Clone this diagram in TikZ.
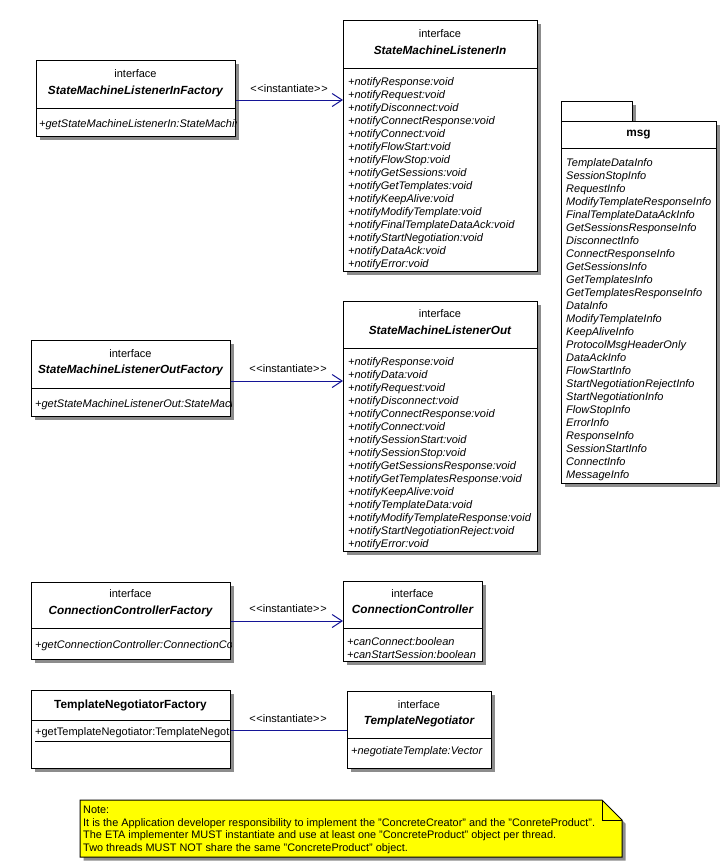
\documentclass[tikz,border=0pt]{standalone}
\usepackage{fontspec}
\setmainfont{Liberation Sans}
\usetikzlibrary{arrows.meta,shadows}
\definecolor{shad}{RGB}{140,140,140}
\definecolor{lnk}{RGB}{20,20,150}
\definecolor{noteyel}{RGB}{255,255,0}
\newcommand\umlfont{\fontsize{11}{13}\selectfont}
\newcommand\titlefont{\fontsize{11.8}{13}\selectfont}
\newcommand\notefont{\fontsize{10.9}{12}\selectfont}
\newcommand\mkbox[5]{\node[umlbox,minimum width={#4-#2},minimum height={#5-#3}] (#1) at (#2,#3) {};}
\newcommand\divline[2]{\draw[line width=1pt] (#1.west |- 0,#2) -- (#1.east |- 0,#2);}
\newcommand\inst{\textless\kern0.8pt\textless instantiate\textgreater\kern0.8pt\textgreater}
\begin{document}
\begin{tikzpicture}[x=1pt,y=-1pt,
  umlbox/.style={draw=black,line width=1pt,fill=white,inner sep=0,anchor=north west,
    drop shadow={shadow xshift=3.5pt,shadow yshift=-3.5pt,fill=shad,opacity=1}},
  txt/.style={inner sep=0,font=\umlfont,text height=8pt,text depth=2.5pt,yshift=-1.2pt},
  ttl/.style={txt,font=\titlefont\bfseries\itshape},
  ttlb/.style={txt,font=\titlefont\bfseries},
  op/.style={txt,anchor=west,font=\umlfont\itshape},
  opu/.style={txt,anchor=west},
  lab/.style={txt},
  inst/.style={draw=lnk,line width=1pt},
  instarr/.style={inst,-{Straight Barb[length=10pt,width=13pt,line width=1pt]}},
  nt/.style={inner sep=0,anchor=west,font=\notefont,text height=7.5pt,text depth=2.5pt,yshift=-1.2pt}]
\useasboundingbox (0,0) rectangle (720,865);
\fill[white] (0,0) rectangle (720,865);

% ---------- StateMachineListenerInFactory
\mkbox{fa}{36}{60}{235}{136}
\divline{fa}{108}
\node[txt] (fa1) at (135.5,74) {interface};
\node[ttl] (fa2) at (135.5,91) {StateMachineListenerInFactory};
\begin{scope}
\clip (fa.south west) rectangle (fa.north east);
\node[op] (fa3) at (39,124) {+getStateMachineListenerIn:StateMachineListenerIn};
\end{scope}

% ---------- StateMachineListenerIn
\mkbox{ia}{343}{20}{537}{271}
\divline{ia}{68}
\node[txt] (ia1) at (440,34) {interface};
\node[ttl] (ia2) at (440,51) {StateMachineListenerIn};
\foreach \t [count=\i from 0] in {notifyResponse,notifyRequest,notifyDisconnect,notifyConnectResponse,notifyConnect,notifyFlowStart,notifyFlowStop,notifyGetSessions,notifyGetTemplates,notifyKeepAlive,notifyModifyTemplate,notifyFinalTemplateDataAck,notifyStartNegotiation,notifyDataAck,notifyError}
  \node[op] (iaop\i) at (348,{82+13*\i}) {+\t:void};

% ---------- msg package
\node[umlbox,minimum width=71,minimum height=20] (mtab) at (561,101) {};
\mkbox{msg}{561}{121}{716}{483}
\divline{msg}{148}
\node[ttlb] (msg1) at (638.5,133) {msg};
\foreach \t [count=\i from 0] in {TemplateDataInfo,SessionStopInfo,RequestInfo,ModifyTemplateResponseInfo,FinalTemplateDataAckInfo,GetSessionsResponseInfo,DisconnectInfo,ConnectResponseInfo,GetSessionsInfo,GetTemplatesInfo,GetTemplatesResponseInfo,DataInfo,ModifyTemplateInfo,KeepAliveInfo,ProtocolMsgHeaderOnly,DataAckInfo,FlowStartInfo,StartNegotiationRejectInfo,StartNegotiationInfo,FlowStopInfo,ErrorInfo,ResponseInfo,SessionStartInfo,ConnectInfo,MessageInfo}
  \node[op] (msgi\i) at (566,{163+13*\i}) {\t};

% ---------- StateMachineListenerOutFactory
\mkbox{fb}{31}{340}{230}{416}
\divline{fb}{388}
\node[txt] (fb1) at (130.5,354) {interface};
\node[ttl] (fb2) at (130.5,370) {StateMachineListenerOutFactory};
\begin{scope}
\clip (fb.south west) rectangle (fb.north east);
\node[op] (fb3) at (35,404) {+getStateMachineListenerOut:StateMachineListenerOut};
\end{scope}

% ---------- StateMachineListenerOut
\mkbox{ob}{343}{301}{537}{551}
\divline{ob}{348}
\node[txt] (ob1) at (440,314) {interface};
\node[ttl] (ob2) at (440,331) {StateMachineListenerOut};
\foreach \t [count=\i from 0] in {notifyResponse,notifyData,notifyRequest,notifyDisconnect,notifyConnectResponse,notifyConnect,notifySessionStart,notifySessionStop,notifyGetSessionsResponse,notifyGetTemplatesResponse,notifyKeepAlive,notifyTemplateData,notifyModifyTemplateResponse,notifyStartNegotiationReject,notifyError}
  \node[op] (obop\i) at (348,{362+13*\i}) {+\t:void};

% ---------- ConnectionControllerFactory
\mkbox{fc}{31}{582}{230}{659}
\divline{fc}{628}
\node[txt] (fc1) at (130.5,594) {interface};
\node[ttl] (fc2) at (130.5,611) {ConnectionControllerFactory};
\begin{scope}
\clip (fc.south west) rectangle (fc.north east);
\node[op] (fc3) at (35,645) {+getConnectionController:ConnectionController};
\end{scope}

% ---------- ConnectionController
\mkbox{cc}{343}{581}{482}{661}
\divline{cc}{628}
\node[txt] (cc1) at (412.5,594) {interface};
\node[ttl] (cc2) at (412.5,610) {ConnectionController};
\node[op] (cc3) at (347,642) {+canConnect:boolean};
\node[op] (cc4) at (347,655) {+canStartSession:boolean};

% ---------- TemplateNegotiatorFactory
\mkbox{fd}{31}{690}{230}{768}
\divline{fd}{720}
\node[ttlb] (fd1) at (130.5,705) {TemplateNegotiatorFactory};
\begin{scope}
\clip (fd.south west) rectangle (fd.north east);
\node[opu] (fd2) at (35,732) {+getTemplateNegotiator:TemplateNegotiator};
\draw[line width=0.8pt] (fd2.west |- 0,741) -- (fd.east |- 0,741);
\end{scope}

% ---------- TemplateNegotiator
\mkbox{tn}{347}{691}{491}{768}
\divline{tn}{738}
\node[txt] (tn1) at (419,705) {interface};
\node[ttl] (tn2) at (419,721) {TemplateNegotiator};
\node[op] (tn3) at (351,751) {+negotiateTemplate:Vector};

% ---------- connectors
\draw[instarr] (fa.east |- 0,100) -- (ia.west |- 0,100);
\node[lab] (la) at (289,89) {\inst};
\draw[instarr] (fb.east |- 0,381) -- (ob.west |- 0,381);
\node[lab] (lb) at (288,369) {\inst};
\draw[instarr] (fc.east |- 0,621) -- (cc.west |- 0,621);
\node[lab] (lc) at (288,609) {\inst};
\draw[inst] (fd.east |- 0,730) -- (tn.west |- 0,730);
\node[lab] (ld) at (288,719) {\inst};

% ---------- note
\fill[shad] (83.5,803.5) -- (605.5,803.5) -- (625.5,823.5) -- (625.5,860.5) -- (83.5,860.5) -- cycle;
\draw[line width=1pt,fill=noteyel] (80,800) -- (602,800) -- (622,820) -- (622,857) -- (80,857) -- cycle;
\draw[line width=1pt] (602,800) -- (602,820) -- (622,820);
\node[nt] (n1) at (83,810) {Note:};
\node[nt] (n2) at (83,822.5) {It is the Application developer responsibility to implement the "ConcreteCreator" and the "ConreteProduct".};
\node[nt] (n3) at (83,835) {The ETA implementer MUST instantiate and use at least one "ConcreteProduct" object per thread.};
\node[nt] (n4) at (83,847.5) {Two threads MUST NOT share the same "ConcreteProduct" object.};
\end{tikzpicture}
\end{document}
